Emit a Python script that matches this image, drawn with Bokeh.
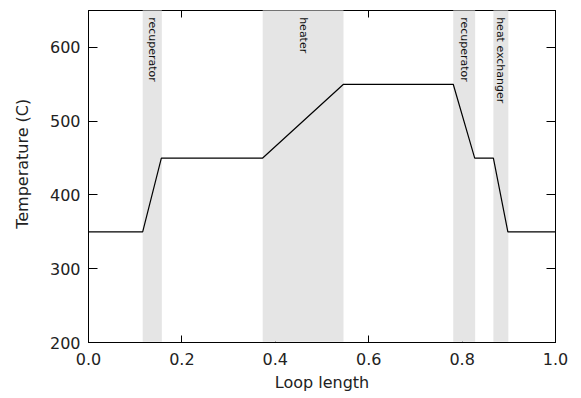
from bokeh.plotting import figure
from bokeh.models import FixedTicker, PrintfTickFormatter, LinearAxis, Range1d, ColumnDataSource
from bokeh.core.properties import value
from bokeh.embed import file_html
from bokeh.resources import INLINE
import math

# Temperature profile along the loop
loop_x = [0.0, 0.116, 0.156, 0.373, 0.546, 0.781, 0.827, 0.867, 0.898, 1.0]
temp_c = [350, 350, 450, 450, 550, 550, 450, 450, 350, 350]

# Component bands
band_names = ["recuperator", "heater", "recuperator", "heat exchanger"]
band_start = [0.116, 0.373, 0.781, 0.867]
band_end = [0.157, 0.546, 0.828, 0.899]

x_ticks = [0.0, 0.2, 0.4, 0.6, 0.8, 1.0]
y_ticks = [200, 300, 400, 500, 600]

FONT = "DejaVu Sans"

p = figure(width=581, height=398, output_backend="svg", toolbar_location=None,
           x_range=Range1d(0, 1), y_range=Range1d(200, 650),
           min_border_left=88, min_border_right=26, min_border_top=10, min_border_bottom=56)
p.grid.visible = False
p.outline_line_color = "black"
p.outline_line_width = 1

bands = ColumnDataSource(dict(left=band_start, right=band_end,
                              mid=[(a + b) / 2 for a, b in zip(band_start, band_end)],
                              name=band_names))
p.quad(left="left", right="right", bottom=201, top=650, source=bands,
       fill_color="#e5e5e5", line_color=None, level="overlay")
p.text(x="mid", y=641, text="name", source=bands, angle=-math.pi / 2,
       text_align="left", text_baseline="middle", text_font=value(FONT),
       text_font_size="11px", text_color="#111111", level="overlay")

p.line(loop_x, temp_c, line_color="black", line_width=1.2, level="overlay")

def style_axis(ax, tick_len):
    ax.axis_line_color = "black"
    ax.major_tick_in = tick_len
    ax.major_tick_out = 0
    ax.minor_tick_in = 0
    ax.minor_tick_out = 0
    ax.major_tick_line_color = "black"
    ax.major_label_text_font = FONT
    ax.major_label_text_color = "#222222"
    ax.major_label_text_font_size = "16px"
    ax.axis_label_text_font = FONT
    ax.axis_label_text_font_style = "normal"
    ax.axis_label_text_color = "#222222"
    ax.axis_label_text_font_size = "16px"

p.xaxis.ticker = FixedTicker(ticks=x_ticks)
p.xaxis.formatter = PrintfTickFormatter(format="%.1f")
p.xaxis.axis_label = "Loop length"
p.xaxis.major_label_standoff = 10
p.xaxis.axis_label_standoff = 5
style_axis(p.xaxis[0], 7)

p.yaxis.ticker = FixedTicker(ticks=y_ticks)
p.yaxis.major_label_standoff = 8
# leading no-break spaces nudge the title slightly above centre, as in the reference
p.yaxis.axis_label = "\u00a0" * 5 + "Temperature (C)"
p.yaxis.axis_label_standoff = 15
style_axis(p.yaxis[0], 9)

top_ax = LinearAxis(ticker=FixedTicker(ticks=x_ticks))
style_axis(top_ax, 7)
top_ax.major_label_text_font_size = "1px"
top_ax.major_label_text_color = None
p.add_layout(top_ax, "above")
right_ax = LinearAxis(ticker=FixedTicker(ticks=y_ticks))
style_axis(right_ax, 9)
right_ax.major_label_text_font_size = "1px"
right_ax.major_label_text_color = None
p.add_layout(right_ax, "right")

open("out.html", "w").write(file_html(p, INLINE))
